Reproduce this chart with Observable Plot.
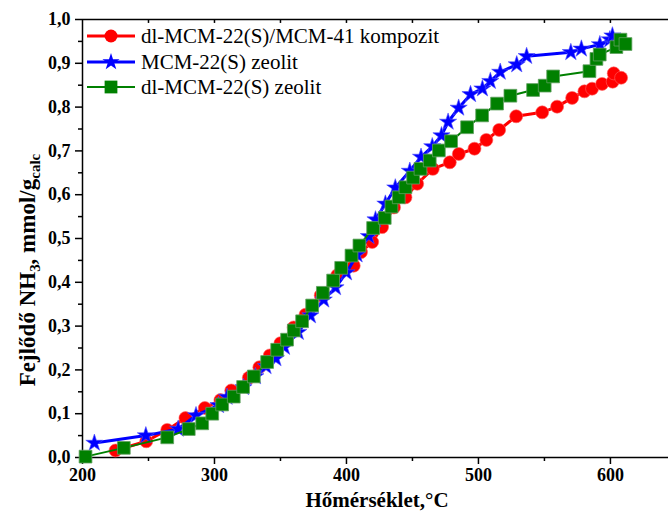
<!DOCTYPE html>
<html>
<head>
<meta charset="utf-8">
<script src="https://cdn.jsdelivr.net/npm/d3@7"></script>
<script src="https://cdn.jsdelivr.net/npm/@observablehq/plot@0.6"></script>
<style>
  html, body { margin: 0; padding: 0; background: #fff; }
  svg { display: block; }
</style>
</head>
<body>
<div id="chart"></div>
<script>
// ---- data ----
const seriesNames = ["dl-MCM-22(S)/MCM-41 kompozit", "MCM-22(S) zeolit", "dl-MCM-22(S) zeolit"];
const seriesColors = ["#ff0000", "#0000ff", "#008000"];

const redT = [225, 248.3, 264.2, 278, 292.7, 304.5, 312.7, 326, 334, 341.9, 350, 360, 369, 380.5, 393, 405.5, 411, 419.5, 427, 436, 444.7, 453.6, 465.4, 478.3, 485.1, 497, 506, 515.7, 528.6, 548.3, 559.6, 571, 580.3, 586.1, 593.7, 601.7, 602.5, 608.1];
const redV = [0.016, 0.037, 0.063, 0.090, 0.113, 0.131, 0.153, 0.182, 0.206, 0.233, 0.261, 0.297, 0.326, 0.370, 0.416, 0.438, 0.469, 0.492, 0.526, 0.571, 0.594, 0.625, 0.659, 0.674, 0.693, 0.705, 0.725, 0.748, 0.779, 0.788, 0.801, 0.821, 0.836, 0.842, 0.853, 0.858, 0.877, 0.867];

const blueT = [209, 248, 272.5, 286, 303, 309.5, 322, 331, 339, 346.5, 353, 363.5, 372.7, 382.8, 391.7, 400, 408, 417, 422, 429.5, 437, 448, 456.5, 465, 472, 477, 485, 494, 503, 509, 516.5, 529, 536.5, 570, 578, 592, 599.5, 601.5];
const blueV = [0.033, 0.050, 0.065, 0.096, 0.119, 0.138, 0.160, 0.185, 0.208, 0.226, 0.252, 0.286, 0.324, 0.360, 0.388, 0.422, 0.463, 0.505, 0.543, 0.579, 0.616, 0.654, 0.686, 0.710, 0.735, 0.766, 0.798, 0.829, 0.842, 0.859, 0.880, 0.897, 0.916, 0.925, 0.933, 0.943, 0.954, 0.963];

const greenT = [202.3, 231.3, 264.2, 280.5, 290.7, 298.3, 305.8, 314.6, 321.7, 329.8, 339.9, 347.5, 355, 360.1, 366.4, 374, 382.1, 389.9, 396, 403.8, 409.8, 420.2, 429, 434.1, 439.6, 444.7, 450.5, 456.1, 463.1, 470, 479.3, 491.4, 502.8, 514.1, 524.2, 541.4, 550.2, 556.6, 584.1, 589.4, 591.9, 604.5, 607.6, 611.4];
const greenV = [0.002, 0.022, 0.046, 0.065, 0.078, 0.100, 0.121, 0.139, 0.161, 0.185, 0.218, 0.246, 0.269, 0.290, 0.311, 0.347, 0.376, 0.404, 0.433, 0.461, 0.484, 0.524, 0.547, 0.573, 0.594, 0.617, 0.639, 0.659, 0.678, 0.701, 0.722, 0.754, 0.781, 0.808, 0.826, 0.839, 0.849, 0.870, 0.882, 0.910, 0.920, 0.937, 0.954, 0.944];

const xMajorTicks = [200, 300, 400, 500, 600];
const xMinorTicks = [250, 350, 450, 550];
const xTopTicks = [250, 300, 350, 400, 450, 500, 550, 600];
const yMajorTicks = [0, 0.1, 0.2, 0.3, 0.4, 0.5, 0.6, 0.7, 0.8, 0.9, 1.0];
const yMinorTicks = [0.05, 0.15, 0.25, 0.35, 0.45, 0.55, 0.65, 0.75, 0.85, 0.95];

const xLabel = "Hőmérséklet,°C";

// ---- tables ----
const red = redT.map((t, i) => ({T: t, v: redV[i]}));
const blue = blueT.map((t, i) => ({T: t, v: blueV[i]}));
const green = greenT.map((t, i) => ({T: t, v: greenV[i]}));

const FONT = "Liberation Serif, Times New Roman, serif";
const rCircle = 6.5, rStar = 5.4, rSquare = 7.2;

const plot = Plot.plot({
  width: 668,
  height: 512,
  marginLeft: 82,
  marginRight: 0,
  marginTop: 19,
  marginBottom: 55,
  style: {fontFamily: FONT, background: "#fff", color: "#000"},
  x: {domain: [200, 644]},
  y: {domain: [0, 1]},
  marks: [
    Plot.axisX({ticks: xMajorTicks, tickSize: 7, tickPadding: 4, strokeWidth: 1.5, label: null,
      fontFamily: FONT, fontSize: 18, fontWeight: "bold", tickFormat: d => String(d)}),
    Plot.axisX({ticks: xMinorTicks, tickSize: 4, strokeWidth: 1.5, text: null, label: null}),
    Plot.axisY({ticks: yMajorTicks, tickSize: 7, tickPadding: 5, strokeWidth: 1.5, label: null,
      fontFamily: FONT, fontSize: 18, fontWeight: "bold", tickFormat: d => d.toFixed(1).replace(".", ",")}),
    Plot.axisY({ticks: yMinorTicks, tickSize: 4, strokeWidth: 1.5, text: null, label: null}),
    Plot.ruleX(xTopTicks, {x: d => d, y1: 1, y2: 0.991, strokeWidth: 1.5}),
    Plot.ruleY([0], {strokeWidth: 1.5}),
    Plot.ruleY([1], {strokeWidth: 1.5}),
    Plot.ruleX([200], {strokeWidth: 1.5}),

    Plot.line(red, {x: "T", y: "v", stroke: seriesColors[0], strokeWidth: 3}),
    Plot.dot(red, {x: "T", y: "v", symbol: "circle", r: rCircle, fill: seriesColors[0], stroke: "#ff6060", strokeWidth: 0.6}),
    Plot.line(blue, {x: "T", y: "v", stroke: seriesColors[1], strokeWidth: 3}),
    Plot.dot(blue, {x: "T", y: "v", symbol: "star", r: rStar, fill: seriesColors[1], stroke: "#5050ff", strokeWidth: 0.6}),
    Plot.line(green, {x: "T", y: "v", stroke: seriesColors[2], strokeWidth: 2}),
    Plot.dot(green, {x: "T", y: "v", symbol: "square", r: rSquare, fill: seriesColors[2], stroke: "#60a060", strokeWidth: 0.8})
  ]
});

document.getElementById("chart").appendChild(plot);

// ---- decorations: axis labels and legend ----
const svg = d3.select(plot);

svg.append("text")
  .attr("x", 377).attr("y", 507)
  .attr("text-anchor", "middle")
  .attr("font-family", FONT).attr("font-size", 21).attr("font-weight", "bold")
  .attr("font-style", "normal")
  .attr("fill", "#000")
  .text(xLabel);

const yl = svg.append("text")
  .attr("transform", "translate(35,270) rotate(-90)")
  .attr("text-anchor", "middle")
  .attr("font-family", FONT).attr("font-size", 23).attr("font-weight", "bold")
  .attr("fill", "#000");
yl.append("tspan").text("Fejlődő NH");
yl.append("tspan").attr("dy", 5).attr("font-size", 15).text("3");
yl.append("tspan").attr("dy", -5).text(", mmol/g");
yl.append("tspan").attr("dy", 5).attr("font-size", 15).text("calc");

const legendY = [36, 62, 87];
const symbols = [d3.symbolCircle, d3.symbolStar, d3.symbolSquare];
const symR = [rCircle, rStar, rSquare];
const lw = [3, 3, 2];
const lg = svg.append("g").attr("text-anchor", "start");
seriesNames.forEach((name, i) => {
  const y = legendY[i];
  lg.append("line").attr("x1", 87).attr("x2", 135).attr("y1", y).attr("y2", y)
    .attr("stroke", seriesColors[i]).attr("stroke-width", lw[i]);
  lg.append("path")
    .attr("transform", `translate(111,${y})`)
    .attr("d", d3.symbol(symbols[i], Math.PI * symR[i] * symR[i])())
    .attr("fill", seriesColors[i]);
  lg.append("text").attr("x", 141).attr("y", y + 6.5)
    .attr("text-anchor", "start")
    .attr("font-family", FONT).attr("font-size", 21).attr("fill", "#000")
    .text(name);
});
</script>
</body>
</html>
